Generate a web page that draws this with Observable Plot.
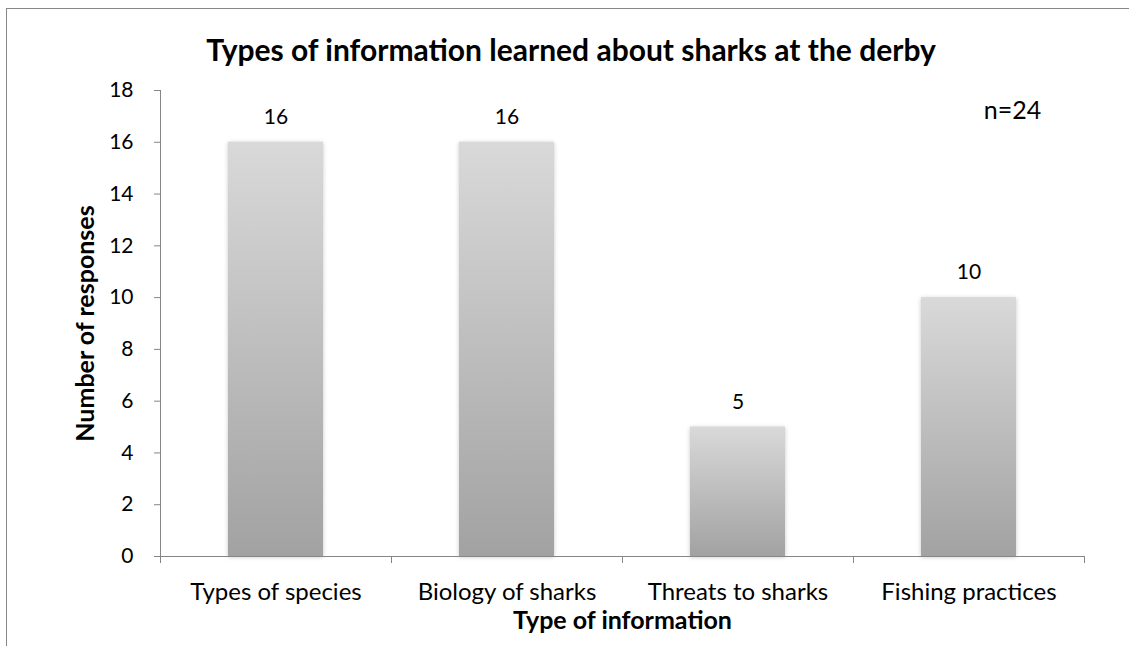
<!DOCTYPE html>
<html>
<head>
<meta charset="utf-8">
<script src="https://cdn.jsdelivr.net/npm/d3@7"></script>
<script src="https://cdn.jsdelivr.net/npm/@observablehq/plot@0.6"></script>
<style>
  html, body { margin: 0; padding: 0; background: #fff; }
  #chart { position: relative; width: 1129px; height: 646px; overflow: hidden; font-family: Lato, sans-serif; color: #000; }
  #frame { position: absolute; left: 6px; top: 8px; width: 1200px; height: 700px;
           border-left: 1px solid #878787; border-top: 1px solid #878787; }
  #title { position: absolute; left: 0; top: 31px; width: 1142px; text-align: center;
           font-weight: bold; font-size: 30px; line-height: 36px; white-space: nowrap; }
  #chart svg { position: absolute; left: 0; top: 0; }
</style>
</head>
<body>
<div id="chart">
  <div id="frame"></div>
  <div id="title">Types of information learned about sharks at the derby</div>
</div>
<script>
// Survey responses per information type
const categories = ["Types of species", "Biology of sharks", "Threats to sharks", "Fishing practices"];
const responses = [16, 16, 5, 10];
const yTicks = [0, 2, 4, 6, 8, 10, 12, 14, 16, 18];
const sampleNote = "n=24";
const yLabel = "Number of responses";
const xLabel = "Type of information";

const data = categories.map((category, i) => ({category, count: responses[i]}));

const W = 1129, H = 646;
const margin = {left: 160, right: 45, top: 90, bottom: 90};
const halfStep = (W - margin.left - margin.right) / categories.length / 2;
const axisGray = "#868686";

const svg = Plot.plot({
  width: W,
  height: H,
  marginLeft: margin.left,
  marginRight: margin.right,
  marginTop: margin.top,
  marginBottom: margin.bottom,
  style: {fontFamily: "Lato, sans-serif", color: "#000", background: "transparent", overflow: "visible"},
  x: {domain: categories, paddingInner: 0.59, paddingOuter: 0.295, label: null},
  y: {domain: [0, 18], label: null},
  marks: [
    Plot.barY(data, {x: "category", y: "count", fill: "url(#barShade)"}),
    // axis lines
    Plot.ruleY([0], {stroke: axisGray}),
    Plot.ruleX([categories[0]], {dx: -halfStep, stroke: axisGray}),
    // category separator ticks below the baseline
    Plot.ruleX(categories, {y1: 0, y2: 0, dx: -halfStep, insetBottom: -7, stroke: axisGray}),
    Plot.ruleX([categories[categories.length - 1]], {y1: 0, y2: 0, dx: halfStep, insetBottom: -7, stroke: axisGray}),
    Plot.axisY({ticks: yTicks, tickSize: 6, tickPadding: 21, stroke: axisGray, color: "#000", fontSize: 21, label: null}),
    Plot.axisX({tickSize: 0, tickPadding: 26, color: "#000", fontSize: 24, label: null}),
    // value labels
    Plot.text(data, {x: "category", y: "count", text: d => String(d.count), dy: -25, fontSize: 21, fill: "#000"}),
    Plot.text([sampleNote], {frameAnchor: "top-right", textAnchor: "middle", lineAnchor: "middle", dx: -72, dy: 20, fontSize: 25, fill: "#000"}),
    Plot.text([yLabel], {frameAnchor: "left", textAnchor: "middle", lineAnchor: "middle", dx: -75, rotate: -90, fontSize: 25, fontWeight: "bold", fill: "#000"}),
    Plot.text([xLabel], {frameAnchor: "bottom", textAnchor: "middle", lineAnchor: "middle", dy: 64, fontSize: 25, fontWeight: "bold", fill: "#000"})
  ]
});

// vertical gray gradient shared by every bar
const defs = d3.select(svg).insert("defs", ":first-child");
const grad = defs.append("linearGradient")
  .attr("id", "barShade").attr("x1", 0).attr("y1", 0).attr("x2", 0).attr("y2", 1);
grad.append("stop").attr("offset", "0%").attr("stop-color", "#d9d9d9");
grad.append("stop").attr("offset", "100%").attr("stop-color", "#a2a2a2");

d3.select(svg).select('g[aria-label="bar"]')
  .style("filter", "drop-shadow(0px 1px 2px rgba(0,0,0,0.22))");

document.getElementById("chart").appendChild(svg);
</script>
</body>
</html>
